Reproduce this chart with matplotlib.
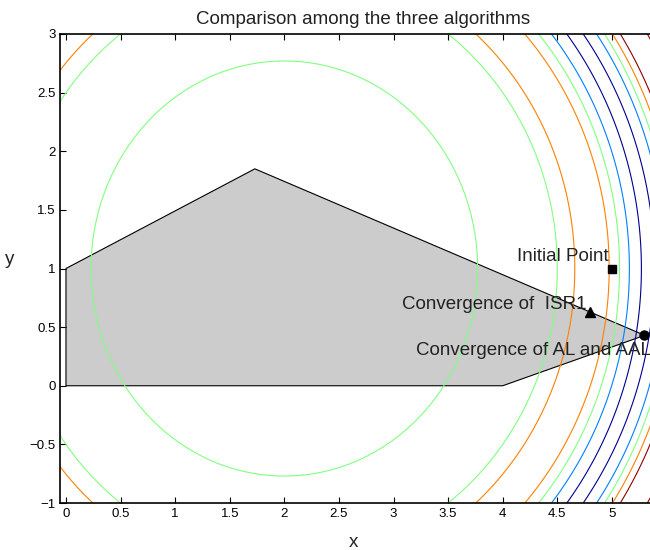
import matplotlib.pyplot as plt
import numpy as np

plt.rcParams['font.family'] = ['Liberation Sans', 'DejaVu Sans']

# level curves: circles around the centre, colour index (0..4, jet-like)
centro = (2.0, 1.0)
raios = [1.77, 2.50, 2.66, 2.975, 3.07, 3.16, 3.27, 3.39, 3.49, 3.55, 3.61, 3.67, 3.88]
nivel_cor = [2, 2, 3, 3, 2, 1, 0, 0, 1, 2, 3, 4, 4]
paleta = ['#00008f', '#0080ff', '#80ff80', '#ff8000', '#8f0000']

# feasible region
regiao_x = [0, 0, 1.73, 5.30, 4.0]
regiao_y = [0, 1, 1.85, 0.43, 0]

# points
ponto_inicial = (5.0, 1.0)
ponto_isr1 = (4.80, 0.63)
ponto_al = (5.29, 0.43)

rotulos = ['Initial Point', 'Convergence of  ISR1', 'Convergence of AL and AAL']
rotulos_x = [4.13, 3.08, 3.21]
rotulos_y = [1.10, 0.69, 0.30]

xticks = [0, 0.5, 1, 1.5, 2, 2.5, 3, 3.5, 4, 4.5, 5]
yticks = [-1, -0.5, 0, 0.5, 1, 1.5, 2, 2.5, 3]

fig = plt.figure(figsize=(6.5, 5.5), dpi=100)
ax = fig.add_axes([60.5 / 650, 47 / 550, 606 / 650, 469 / 550])

ax.fill(regiao_x, regiao_y, facecolor='0.8', edgecolor='k', linewidth=0.8, zorder=1)

xx, yy = np.meshgrid(np.linspace(-0.2, 5.7, 600), np.linspace(-1.2, 3.2, 450))
rr = np.sqrt((xx - centro[0]) ** 2 + (yy - centro[1]) ** 2)
cores = [paleta[n] for n in nivel_cor]
ax.contour(xx, yy, rr, levels=raios, colors=cores, linewidths=0.8, zorder=2)

ax.plot(*ponto_inicial, 's', color='k', markersize=5.5, zorder=4)
ax.plot(*ponto_isr1, '^', color='k', markersize=6.5, zorder=4)
ax.plot(*ponto_al, 'o', color='k', markersize=6.5, zorder=4)

for t, tx, ty in zip(rotulos, rotulos_x, rotulos_y):
    ax.text(tx, ty, t, ha='left', va='center', fontsize=13.5, color='#222222', zorder=5)

ax.set_xlim(-0.05, 5.5)
ax.set_ylim(-1, 3)
ax.set_xticks(xticks)
ax.set_yticks(yticks)
ax.set_xticklabels(['%g' % v for v in xticks])
ax.set_yticklabels([('%g' % v).replace('-', '\u2212') for v in yticks])
ax.tick_params(direction='in', length=4, width=0.8, top=True, right=True, labelsize=9.5)
for s in ax.spines.values():
    s.set_linewidth(1.2)

ax.set_title('Comparison among the three algorithms', fontsize=13.5, color='#222222', pad=7)
ax.set_xlabel('x', fontsize=13.5, color='#222222', x=0.484, labelpad=10)
ax.set_ylabel('y', fontsize=13.5, color='#222222', rotation=0, labelpad=14)

fig.savefig('out.png', dpi=100)
